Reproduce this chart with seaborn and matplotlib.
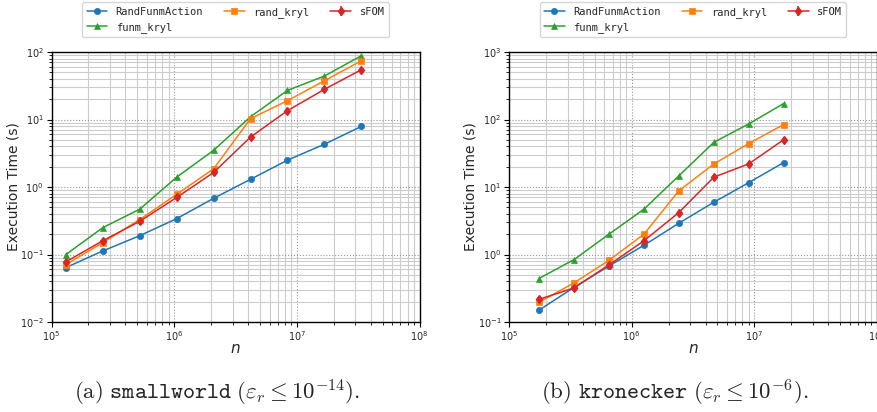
import matplotlib
matplotlib.use("Agg")
import matplotlib.pyplot as plt
import seaborn as sns
import numpy as np
import pandas as pd

# ---- data ----
methods = ["RandFunmAction", "funm_kryl", "rand_kryl", "sFOM"]
colors = ["#1f77b4", "#2ca02c", "#ff7f0e", "#d62728"]
markers = ["o", "^", "s", "d"]

n_small = [131072, 262144, 524288, 1048576, 2097152, 4194304, 8388608, 16777216, 33554432]
small_rfa = [0.064, 0.113, 0.19, 0.34, 0.68, 1.3, 2.5, 4.3, 7.9]
small_funm = [0.10, 0.25, 0.47, 1.4, 3.5, 11.0, 27.0, 44.0, 88.0]
small_randk = [0.071, 0.15, 0.33, 0.78, 1.86, 10.3, 19.0, 37.5, 74.0]
small_sfom = [0.078, 0.16, 0.31, 0.70, 1.64, 5.5, 13.5, 28.0, 54.6]
small_sfom_err = [0.008, 0.016, 0.03, 0.07, 0.16, 0.55, 1.3, 2.8, 5.5]

n_kron = [175000, 339000, 653000, 1260000, 2420000, 4680000, 9000000, 17300000]
kron_rfa = [0.149, 0.326, 0.675, 1.37, 2.9, 5.95, 11.6, 23.0]
kron_funm = [0.44, 0.84, 2.0, 4.7, 14.6, 46.0, 86.0, 172.0]
kron_randk = [0.195, 0.38, 0.82, 2.0, 8.75, 22.0, 44.0, 84.0]
kron_sfom = [0.216, 0.32, 0.70, 1.6, 4.17, 14.0, 22.0, 50.0]
kron_sfom_err = [0.02, 0.03, 0.07, 0.16, 0.42, 1.4, 2.2, 5.0]

captions = [r"$\mathrm{(a)}\ \mathtt{smallworld}\ (\varepsilon_r \leq 10^{-14}).$",
            r"$\mathrm{(b)}\ \mathtt{kronecker}\ (\varepsilon_r \leq 10^{-6}).$"]
ylims = [(1e-2, 1e2), (1e-1, 1e3)]

sns.set_theme(style="ticks")
plt.rcParams["font.family"] = ["DejaVu Sans"]

fig = plt.figure(figsize=(8.77, 4.12), dpi=100)
ax_pos = [[51.5 / 877, 90 / 412, 368 / 877, 270 / 412],
          [509 / 877, 90 / 412, 368 / 877, 270 / 412]]

datasets = [
    (n_small, [small_rfa, small_funm, small_randk, small_sfom], small_sfom_err),
    (n_kron, [kron_rfa, kron_funm, kron_randk, kron_sfom], kron_sfom_err),
]
cap_x = [217 / 877, 675 / 877]

for i, (nvals, series, serr) in enumerate(datasets):
    ax = fig.add_axes(ax_pos[i])
    for m, c, mk, y in zip(methods[:3], colors[:3], markers[:3], series[:3]):
        df = pd.DataFrame({"n": nvals, "t": y})
        sns.lineplot(data=df, x="n", y="t", ax=ax, color=c, marker=mk,
                     markersize=4.5, markeredgecolor=c, markeredgewidth=0.5,
                     linewidth=1.1, label=m)
    ax.errorbar(nvals, series[3], yerr=serr, fmt="-", marker="d", color=colors[3],
                markersize=4.5, linewidth=1.1, elinewidth=1.1, capsize=0,
                label=methods[3])
    ax.set_xscale("log")
    ax.set_yscale("log")
    ax.set_xlim(1e5, 1e8)
    ax.set_ylim(*ylims[i])
    ax.grid(True, which="minor", linestyle="-", color="0.8", linewidth=0.8)
    ax.grid(True, which="major", linestyle=":", color="0.6", linewidth=0.8)
    ax.set_axisbelow(True)
    for s in ax.spines.values():
        s.set_color("black")
        s.set_linewidth(1.0)
        s.set_visible(True)
    ax.tick_params(axis="both", which="major", labelsize=7, length=3.5, width=0.8,
                   direction="out", color="black", pad=2)
    ax.tick_params(axis="both", which="minor", length=2, width=0.6, direction="out",
                   color="black")
    ax.set_xlabel(r"$n$", fontsize=11, labelpad=-1.5)
    ax.set_ylabel("Execution Time (s)", fontsize=10, labelpad=0)
    ax.legend(loc="lower center", bbox_to_anchor=(0.5, 1.056), ncol=3,
              borderaxespad=0, frameon=True, fancybox=True, edgecolor="0.8",
              prop={"family": "DejaVu Sans Mono", "size": 7.5},
              handlelength=2.0, columnspacing=2.0)
    fig.text(cap_x[i], 19 / 412, captions[i], ha="center", va="center",
             fontsize=16.5, math_fontfamily="cm")

fig.savefig("out.png", dpi=100)
